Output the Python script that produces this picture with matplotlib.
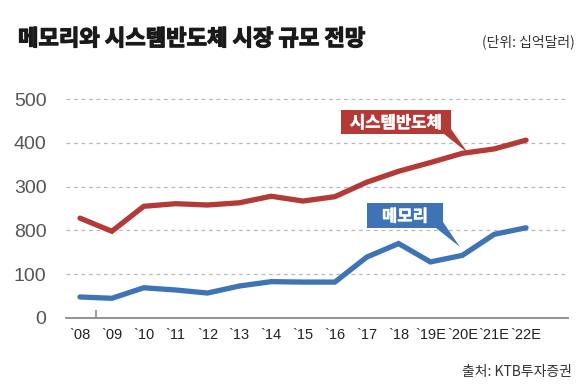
import numpy as np
import matplotlib
matplotlib.use('Agg')
import matplotlib.pyplot as plt
import matplotlib.patheffects as pe
from matplotlib.patches import Polygon

plt.rcParams['font.family'] = ['Noto Sans CJK KR', 'DejaVu Sans']

# 데이터 (단위: 십억달러)
years = ['`08', '`09', '`10', '`11', '`12', '`13', '`14', '`15', '`16',
         '`17', '`18', '`19E', '`20E', '`21E', '`22E']
system_semi = [228, 198, 255, 261, 258, 263, 278, 267, 277, 310, 335, 355, 376, 386, 406]
memory = [48, 45, 69, 64, 57, 73, 83, 82, 82, 139, 170, 128, 143, 191, 206]
y_ticks = [0, 100, 200, 300, 400, 500]
y_tick_labels = ['0', '100', '800', '300', '400', '500']

red = '#b33a37'
blue = '#3e74b5'

W, H = 582, 388
fig = plt.figure(figsize=(W / 100, H / 100), dpi=100)

# 픽셀 기준 레이아웃
ax_left, ax_right, ax_bottom, ax_top = 66, 568, 318, 90
ax = fig.add_axes([ax_left / W, 1 - ax_bottom / H,
                   (ax_right - ax_left) / W, (ax_bottom - ax_top) / H])

x = np.arange(len(years))
px_per_unit = 31.86
ax.set_xlim(-(80 - ax_left) / px_per_unit, (ax_right - 80) / px_per_unit)
ax.set_ylim(0, (ax_bottom - ax_top) / 0.438)

ax.plot(x, system_semi, color=red, lw=3.8, solid_capstyle='round', solid_joinstyle='miter', zorder=3)
ax.plot(x, memory, color=blue, lw=3.8, solid_capstyle='round', solid_joinstyle='miter', zorder=3)

# 격자
for v in y_ticks[1:]:
    ax.axhline(v, color='#b8b8b8', lw=0.9, ls=(0, (3, 3)), zorder=1)

for s in ['top', 'right', 'left']:
    ax.spines[s].set_visible(False)
ax.spines['bottom'].set_color('#8a8a8a')
ax.spines['bottom'].set_linewidth(1.3)

ax.set_yticks(y_ticks)
ax.set_yticklabels(y_tick_labels, family=['Liberation Sans', 'DejaVu Sans'],
                   fontsize=14, color='#555555')
ax.tick_params(axis='y', length=0, pad=14)

ax.set_xticks(x)
ax.set_xticklabels(years, family=['Liberation Sans', 'DejaVu Sans'],
                   fontsize=10.5, color='#222222')
ax.tick_params(axis='x', which='major', length=0, pad=7)
ax.set_xticks([0.5], minor=True)
ax.tick_params(axis='x', which='minor', direction='in', length=6, width=1.2, color='#8a8a8a')


def px2data(px, py):
    return ((px - 80) / px_per_unit, (ax_bottom - py) / 0.438)


def callout(pts, text, color):
    poly = Polygon([px2data(*p) for p in pts], closed=True, facecolor=color,
                   edgecolor='none', zorder=4)
    ax.add_patch(poly)
    xs = [p[0] for p in pts[:2]]
    ys = [pts[0][1], pts[-1][1]]
    cx, cy = px2data((xs[0] + xs[1]) / 2, (ys[0] + ys[1]) / 2 + 1)
    ax.text(cx, cy, text, color='white', fontsize=12, fontweight='bold',
            ha='center', va='center', zorder=5,
            path_effects=[pe.withStroke(linewidth=0.35, foreground='white')])


callout([(341, 110), (451, 110), (451, 129), (468, 153), (444, 134), (341, 134)],
        '시스템반도체', red)
callout([(367, 203), (443, 203), (443, 222), (460, 247), (436, 228), (367, 228)],
        '메모리', blue)

fig.text(18 / W, 1 - 39 / H, '메모리와 시스템반도체 시장 규모 전망', fontsize=16,
         fontweight='bold', color='#1a1a1a', ha='left', va='center',
         path_effects=[pe.withStroke(linewidth=0.9, foreground='#1a1a1a')])
fig.text(575 / W, 1 - 42 / H, '(단위: 십억달러)', fontsize=10, color='#333333',
         ha='right', va='center')
fig.text(572 / W, 1 - 372 / H, '출처: KTB투자증권', fontsize=10, color='#333333',
         ha='right', va='center')

fig.savefig('out.png', dpi=100)
